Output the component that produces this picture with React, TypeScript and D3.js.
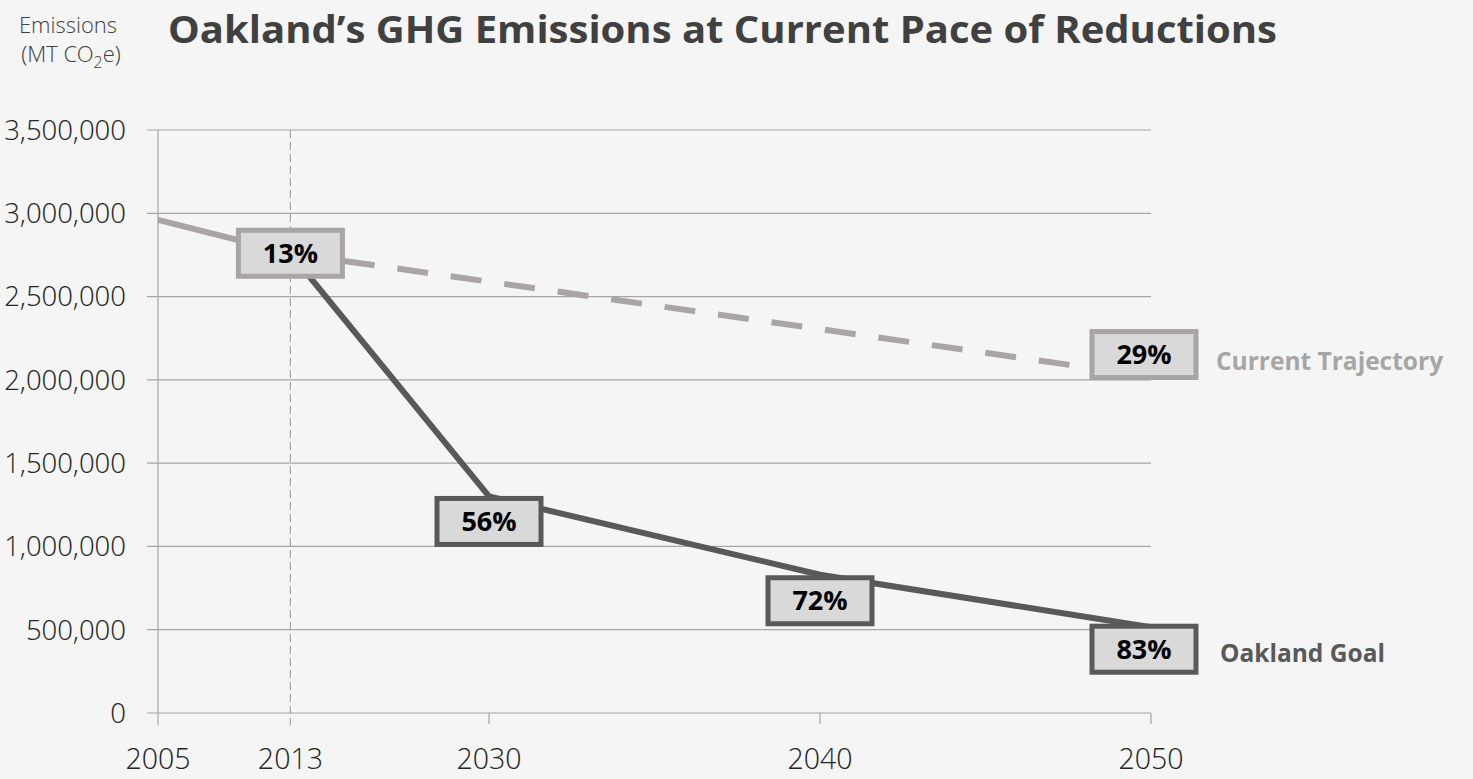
import React from "react";
import * as d3 from "d3";

// Axis categories and their spacing units along the x axis
const axisYears = [2005, 2013, 2030, 2040, 2050];
const axisUnits = [0, 4, 10, 20, 30];

// Emissions (MT CO2e) — current trajectory
const trajectoryYears = [2005, 2013, 2050];
const trajectoryValues = [2960000, 2760000, 2020000];

// Emissions (MT CO2e) — Oakland goal
const goalYears = [2013, 2030, 2040, 2050];
const goalValues = [2760000, 1300000, 830000, 515000];

// Reduction callouts
const trajectoryLabelYears = [2013, 2050];
const trajectoryLabelText = ["13%", "29%"];
const goalLabelYears = [2030, 2040, 2050];
const goalLabelText = ["56%", "72%", "83%"];

const yTicks = [0, 500000, 1000000, 1500000, 2000000, 2500000, 3000000, 3500000];

const W = 1473;
const H = 779;
const M = { left: 158, right: 322, top: 130, bottom: 66 };
const FONT = "'Open Sans', 'Noto Sans', sans-serif";
const LIGHT_FONT = "'Open Sans Light', 'Open Sans', 'Noto Sans', sans-serif";

const LIGHT = "#a9a5a5";
const DARK = "#595959";

export default function App() {
  const innerW = W - M.left - M.right;
  const unitMax = d3.max(axisUnits) as number;
  const x = d3
    .scaleLinear()
    .domain(axisYears)
    .range(axisUnits.map((u) => M.left + (u / unitMax) * innerW));
  const y = d3.scaleLinear().domain([0, 3500000]).range([H - M.bottom, M.top]);
  const fmt = d3.format(",");

  const line = d3
    .line<[number, number]>()
    .x((d) => x(d[0]))
    .y((d) => y(d[1]));

  const traj: [number, number][] = trajectoryYears.map((yr, i) => [yr, trajectoryValues[i]]);
  const goal: [number, number][] = goalYears.map((yr, i) => [yr, goalValues[i]]);
  const trajValue = (yr: number) => trajectoryValues[trajectoryYears.indexOf(yr)];
  const goalValue = (yr: number) => goalValues[goalYears.indexOf(yr)];

  const boxW = 104;
  const boxH = 46;

  const callout = (
    key: string,
    cx: number,
    cy: number,
    text: string,
    stroke: string
  ) => (
    <g key={key}>
      <rect
        x={cx - boxW / 2}
        y={cy - boxH / 2}
        width={boxW}
        height={boxH}
        fill="#d9d9d9"
        stroke={stroke}
        strokeWidth={5}
      />
      <text
        x={cx}
        y={cy}
        dy="0.36em"
        textAnchor="middle"
        fontFamily={FONT}
        fontWeight={700}
        fontSize={27}
        fill="#000"
      >
        {text}
      </text>
    </g>
  );

  const trajOffsets = [0, -22];
  const goalOffsets = [25, 26, 22];
  const endShift = (yr: number) => (yr === 2050 ? -7 : 0);

  return (
    <svg
      width={W}
      height={H}
      style={{ position: "absolute", left: 0, top: 0, background: "#f5f5f5" }}
    >
      {/* Title and axis caption */}
      <text
        x={168}
        y={43}
        fontFamily={FONT}
        fontWeight={700}
        fontSize={38}
        fill="#404040"
        textLength={1109}
        lengthAdjust="spacingAndGlyphs"
      >
        Oakland’s GHG Emissions at Current Pace of Reductions
      </text>
      <text x={68} y={33} textAnchor="middle" fontFamily={LIGHT_FONT} fontWeight={300} fontSize={22} fill="#404040">
        Emissions
      </text>
      <text x={71} y={62} textAnchor="middle" fontFamily={LIGHT_FONT} fontWeight={300} fontSize={22} fill="#404040">
        (MT CO
        <tspan fontSize={16} dy={6}>
          2
        </tspan>
        <tspan dy={-6}>e)</tspan>
      </text>

      {/* Horizontal gridlines and y tick labels */}
      {yTicks.map((t) => (
        <g key={t}>
          <line
            x1={M.left - 11}
            x2={x(2050)}
            y1={y(t)}
            y2={y(t)}
            stroke="#a6a6a6"
            strokeWidth={1.2}
          />
          <text
            x={126}
            y={y(t)}
            dy="0.36em"
            textAnchor="end"
            fontFamily={LIGHT_FONT}
            fontWeight={300}
            fontSize={27.5}
            fill="#262626"
          >
            {fmt(t)}
          </text>
        </g>
      ))}

      {/* Vertical axis */}
      <line x1={M.left} x2={M.left} y1={y(3500000)} y2={y(0) + 12} stroke="#a6a6a6" strokeWidth={1.2} />

      {/* 2013 reference line */}
      <line
        x1={x(2013)}
        x2={x(2013)}
        y1={y(3500000)}
        y2={y(0) + 12}
        stroke="#a6a6a6"
        strokeWidth={1.2}
        strokeDasharray="8 4"
      />

      {/* X ticks and labels */}
      {axisYears.map((yr) => (
        <g key={yr}>
          {yr !== 2013 && yr !== 2005 && (
            <line x1={x(yr)} x2={x(yr)} y1={y(0)} y2={y(0) + 11} stroke="#a6a6a6" strokeWidth={1.2} />
          )}
          <text
            x={x(yr)}
            y={769}
            textAnchor="middle"
            fontFamily={LIGHT_FONT}
            fontWeight={300}
            fontSize={28.5}
            fill="#262626"
          >
            {yr}
          </text>
        </g>
      ))}

      {/* Current trajectory: solid to 2013, dashed beyond */}
      <path d={line(traj.slice(0, 2)) ?? ""} fill="none" stroke={LIGHT} strokeWidth={6} />
      <path
        d={line(traj.slice(1)) ?? ""}
        fill="none"
        stroke={LIGHT}
        strokeWidth={6}
        strokeDasharray="31 23"
      />

      {/* Oakland goal */}
      <path d={line(goal) ?? ""} fill="none" stroke={DARK} strokeWidth={6} strokeLinejoin="round" />

      {/* Callouts */}
      {goalLabelYears.map((yr, i) =>
        callout(`g${yr}`, x(yr) + endShift(yr), y(goalValue(yr)) + goalOffsets[i], goalLabelText[i], DARK)
      )}
      {trajectoryLabelYears.map((yr, i) =>
        callout(`t${yr}`, x(yr) + endShift(yr), y(trajValue(yr)) + trajOffsets[i], trajectoryLabelText[i], LIGHT)
      )}

      {/* Series names */}
      <text
        x={x(2050) + 65}
        y={y(trajValue(2050)) - 22 + 7}
        dy="0.36em"
        fontFamily={FONT}
        fontWeight={700}
        fontSize={24.5}
        fill="#a6a6a6"
      >
        Current Trajectory
      </text>
      <text
        x={x(2050) + 69}
        y={y(goalValue(2050)) + 22 + 4}
        dy="0.36em"
        fontFamily={FONT}
        fontWeight={700}
        fontSize={24.5}
        fill={DARK}
      >
        Oakland Goal
      </text>
    </svg>
  );
}
